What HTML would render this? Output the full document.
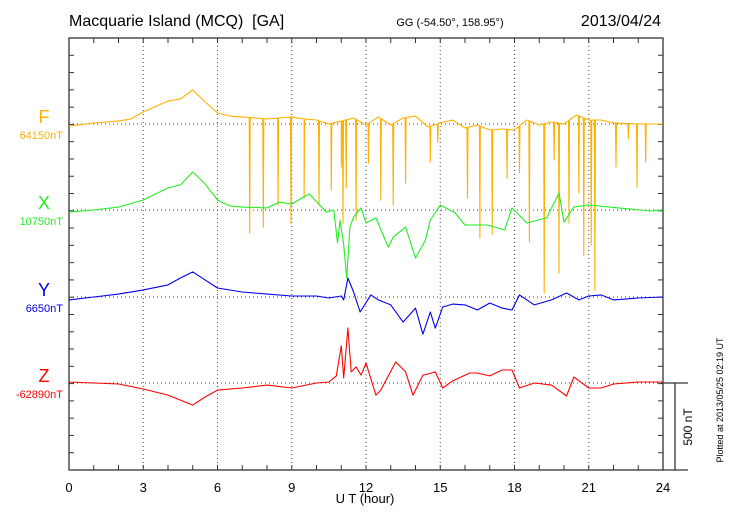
<!DOCTYPE html>
<html><head><meta charset="utf-8"><style>
body{margin:0;background:#fff;}
svg{display:block;font-family:"Liberation Sans",sans-serif;}
</style></head><body>
<svg id="chart" width="730" height="520" viewBox="0 0 730 520">
<text x="69" y="26" font-size="16">Macquarie Island (MCQ)&#160;&#160;[GA]</text>
<text x="450" y="26" font-size="11" text-anchor="middle">GG (-54.50°, 158.95°)</text>
<text x="661" y="26" font-size="16" text-anchor="end">2013/04/24</text>
<text x="365" y="503" font-size="13" text-anchor="middle">U T (hour)</text>
<text transform="translate(723,400) rotate(-90)" font-size="9" text-anchor="middle">Plotted at 2013/05/25 02:19 UT</text>
<text transform="translate(692,427) rotate(-90)" font-size="12" text-anchor="middle">500 nT</text>
<g id="grid"></g><g id="axes"></g><g id="series"></g><g id="labels"></g>
</svg>
<script>
const xTicks=[0,3,6,9,12,15,18,21,24];
const fHours=[0,1,2,2.5,3,4,4.5,5,5.5,6,6.5,7,8,9,9.5,10,10.5,11,11.5,12,12.5,13,13.5,14,14.5,15,15.5,16,16.5,17,17.5,18,18.5,19,19.5,20,20.5,21,21.5,22,23,24];
const fValues=[-12,6,17,29,70,133,145,197,128,64,46,41,29,41,29,23,0,17,35,-6,41,-6,35,46,-17,6,23,-23,-6,-35,-29,-35,23,-6,12,0,52,23,23,6,0,0];
const fSpikeHours=[7.3,7.85,8.45,8.97,9.5,10.1,10.6,11.0,11.07,11.2,11.6,12.1,12.6,13.1,13.6,14.6,14.9,16.1,16.6,17.1,17.7,18.2,18.6,19.2,19.6,19.8,20.2,20.6,20.8,21.1,21.25,22.1,22.6,22.95,23.3];
const fSpikeValues=[-632,-597,-470,-574,-429,-470,-383,-249,-574,-371,-557,-226,-441,-470,-342,-220,-104,-429,-661,-638,-313,-284,-684,-980,-209,-864,-574,-400,-760,-702,-963,-249,-87,-365,-220];
const xHours=[0,1,2,3,4,4.5,5,5.5,6,6.5,7,8,8.5,9,9.7,10.4,10.7,10.85,10.95,11.1,11.22,11.35,11.5,11.8,12,12.4,12.9,13.1,13.6,14.0,14.4,14.6,15.0,15.6,16.0,16.9,17.6,17.9,18.5,19.3,19.8,20.0,20.4,21.0,22.2,23.5,24];
const xValues=[-12,0,17,58,128,145,220,151,58,23,17,12,46,35,93,-12,0,-191,-60,-200,-394,-100,-41,12,-75,-46,-215,-157,-99,-278,-174,-58,29,-17,-87,-87,-116,12,-75,-46,99,-70,17,29,12,-6,0];
const yHours=[0,1,2,3,4,4.5,5,5.5,6,7,8,9,10,10.5,11,11.1,11.27,11.5,11.76,12.2,12.5,13,13.5,14,14.3,14.6,14.8,15.1,15.5,16,16.5,17,17.5,17.9,18.2,18.8,19.5,20.1,20.6,21,21.5,22,23,24];
const yValues=[-17,0,17,41,70,110,145,99,52,29,17,6,6,-6,6,-17,110,29,-87,12,-17,-46,-145,-64,-215,-87,-180,-58,-41,-46,-75,-35,-64,-75,12,-46,-17,23,-17,6,12,-17,-6,0];
const zHours=[0,1,2,3,4,5,5.5,6,7,8,9,10,10.5,10.8,11.0,11.1,11.27,11.4,11.6,11.8,12,12.4,12.6,13.2,13.6,13.9,14.3,14.5,14.8,15.1,15.5,16.2,16.5,17,17.5,17.9,18.2,18.8,19.5,20.1,20.4,21,21.5,22,23,24];
const zValues=[6,0,-6,-35,-70,-128,-81,-41,-29,-12,-29,0,6,41,215,29,319,64,93,46,116,-70,-41,122,64,-70,46,52,64,-29,12,58,58,41,75,75,-29,0,-12,-75,35,-29,-29,-6,6,6];
const seriesNames=["F","X","Y","Z"];
const seriesBaselines=["64150nT","10750nT","6650nT","-62890nT"];

const NS="http://www.w3.org/2000/svg";
const L=69,R=663,T=38,B=470;
const tickPx=(B-T)/25;
const xScale=h=>L+(R-L)*h/24;
const baseY=[124,210,297,383];
const yScale=(v,i)=>baseY[i]-v*tickPx/100;
function mk(tag,attrs,parent){const e=document.createElementNS(NS,tag);for(const k in attrs)e.setAttribute(k,attrs[k]);parent.appendChild(e);return e;}
const grid=document.getElementById('grid'),axes=document.getElementById('axes'),ser=document.getElementById('series'),lab=document.getElementById('labels');
xTicks.slice(1,-1).forEach(h=>{const l=mk('line',{x1:xScale(h),x2:xScale(h),y1:T,y2:B,stroke:'#444','stroke-width':1,'stroke-dasharray':'1,3'},grid);

});
baseY.forEach(y=>{const l=mk('line',{x1:L,x2:R,y1:y,y2:y,stroke:'#444','stroke-width':1,'stroke-dasharray':'1,3'},grid);

});
const fr=mk('rect',{x:L,y:T,width:R-L,height:B-T,fill:'none',stroke:'#333','stroke-width':1.3},axes);


for(let h=0;h<=24;h++){const x=xScale(h);mk('line',{x1:x,x2:x,y1:B,y2:B-5,stroke:'#333'},axes);mk('line',{x1:x,x2:x,y1:T,y2:T+5,stroke:'#333'},axes);}
for(let k=1;k<25;k++){const y=T+k*tickPx;mk('line',{x1:L,x2:L+5,y1:y,y2:y,stroke:'#333'},axes);mk('line',{x1:R,x2:R-5,y1:y,y2:y,stroke:'#333'},axes);}
mk('line',{x1:R,x2:688,y1:B,y2:B,stroke:'#333','stroke-width':1.3},axes);
const sb=mk('path',{d:`M${R} 383H688M675 383V${B}`,stroke:'#333','stroke-width':1.3,fill:'none'},axes);


xTicks.forEach(h=>{const t=mk('text',{x:xScale(h),y:492,'font-size':13,'text-anchor':'middle'},axes);t.textContent=h;

});
const colors=['#ffb000','#22ee22','#0000ee','#ff0000'];
function pathFor(hs,vs,i,sh,sv){let pts=hs.map((h,k)=>[h,vs[k]]);
if(sh){const interp=h=>{for(let k=1;k<hs.length;k++)if(hs[k]>=h){const t=(h-hs[k-1])/(hs[k]-hs[k-1]);return vs[k-1]+t*(vs[k]-vs[k-1]);}return vs[vs.length-1];};
sh.forEach((h,k)=>{pts.push([h-0.02,interp(h-0.02)]);pts.push([h,sv[k]]);pts.push([h+0.02,interp(h+0.02)]);});
pts.sort((a,b)=>a[0]-b[0]);}
return 'M'+pts.map(p=>xScale(p[0]).toFixed(1)+' '+yScale(p[1],i).toFixed(1)).join('L');}
const data=[[fHours,fValues,fSpikeHours,fSpikeValues],[xHours,xValues],[yHours,yValues],[zHours,zValues]];
data.forEach((d,i)=>{const p=mk('path',{d:pathFor(d[0],d[1],i,d[2],d[3]),fill:'none',stroke:colors[i],'stroke-width':1.1,'stroke-linejoin':'round'},ser);


const n=mk('text',{x:44,y:baseY[i]-1,'font-size':18,fill:colors[i],'text-anchor':'middle'},lab);n.textContent=seriesNames[i];


const b=mk('text',{x:63,y:baseY[i]+15,'font-size':11,fill:colors[i],'text-anchor':'end'},lab);b.textContent=seriesBaselines[i];

});
</script>
</body></html>
